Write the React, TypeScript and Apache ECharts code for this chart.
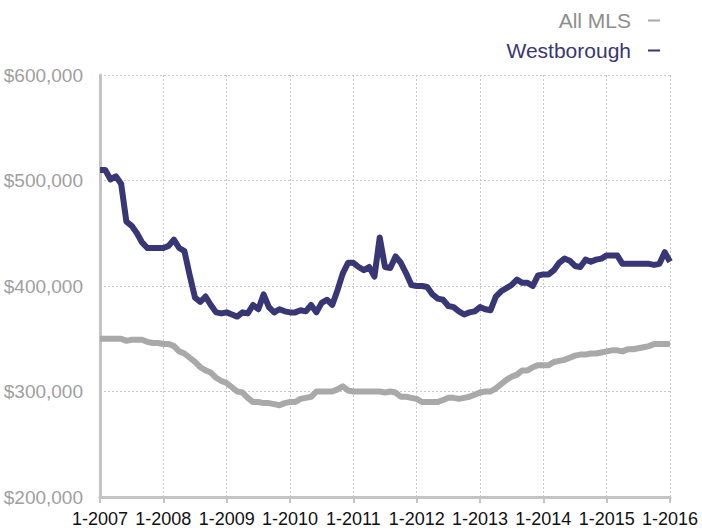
import React, { useEffect, useRef } from "react";
import * as echarts from "echarts";

// Monthly medians in thousands of dollars, Jan 2007 .. Jan 2016
const years = [2007, 2008, 2009, 2010, 2011, 2012, 2013, 2014, 2015, 2016];

const westborough = [
  510, 510, 501, 504, 497, 461, 457, 450, 441, 436, 436, 436,
  436, 438, 444, 436, 433, 410, 389, 385, 390, 382, 375, 374,
  375, 373, 371, 375, 374, 382, 378, 392, 380, 375, 378, 376,
  375, 375, 377, 376, 382, 375, 384, 387, 382, 396, 412, 422,
  422, 418, 415, 418, 409, 446, 418, 417, 428, 422, 412, 401,
  400, 400, 399, 392, 388, 387, 381, 380, 376, 373, 375, 376,
  380, 378, 377, 390, 395, 398, 401, 406, 403, 403, 400, 410,
  411, 411, 415, 422, 426, 424, 419, 418, 425, 423, 425, 426,
  429, 429, 429, 421, 421, 421, 421, 421, 421, 420, 421, 432,
  423,
];

const allMLS = [
  350, 350, 350, 350, 350, 348, 349, 349, 349, 347, 346, 346,
  345, 345, 343, 338, 336, 332, 328, 323, 320, 318, 313, 310,
  308, 304, 300, 299, 294, 290, 290, 289, 289, 288, 287, 289,
  290, 290, 293, 294, 295, 300, 300, 300, 300, 302, 305, 301,
  300, 300, 300, 300, 300, 300, 299, 300, 299, 295, 295, 294,
  293, 290, 290, 290, 290, 292, 294, 294, 293, 294, 295, 297,
  299, 300, 300, 303, 307, 311, 314, 316, 320, 320, 323, 325,
  325, 325, 328, 329, 330, 332, 334, 335, 335, 336, 336, 337,
  338, 339, 339, 338, 340, 340, 341, 342, 343, 345, 345, 345,
  345,
];

const yTicks = { min: 200, max: 600, interval: 100 };

const categories: string[] = [];
years.forEach((y, yi) => {
  const months = yi === years.length - 1 ? 1 : 12;
  for (let m = 1; m <= months; m++) categories.push(`${m}-${y}`);
});

const FONT = "'Liberation Sans', Arial, Helvetica, sans-serif";
const NAVY = "#383675";
const GRAY = "#a9a9a9";

export default function App() {
  const ref = useRef<HTMLDivElement>(null);
  useEffect(() => {
    document.body.style.margin = "0";
    const chart = echarts.init(ref.current!, null, { renderer: "svg" });
    const yearTick = (i: number) => i % 12 === 0;
    chart.setOption({
      animation: false,
      backgroundColor: "#ffffff",
      legend: {
        orient: "vertical",
        right: 37,
        top: 5,
        align: "right",
        icon: "rect",
        itemWidth: 12,
        itemHeight: 2,
        itemGap: 9,
        formatter: (name: string) => `{t|${name}}`,
        textStyle: {
          fontFamily: FONT,
          fontSize: 21,
          rich: { t: { fontSize: 21, fontFamily: FONT, lineHeight: 24, padding: [0, 12, 0, 0] } },
        },
        data: [
          { name: "All MLS", textStyle: { color: "#8e8e8e" } },
          { name: "Westborough", textStyle: { color: NAVY } },
        ],
      },
      grid: { left: 100, right: 32, top: 75, bottom: 34 },
      xAxis: {
        type: "category",
        data: categories,
        boundaryGap: false,
        axisLine: { lineStyle: { color: "#c4c4c4", width: 3 } },
        axisTick: { interval: yearTick, length: 6, lineStyle: { color: "#c4c4c4", width: 2 } },
        axisLabel: {
          interval: yearTick,
          color: "#111111",
          fontSize: 18,
          fontFamily: FONT,
          margin: 13,
        },
        splitLine: {
          show: true,
          interval: yearTick,
          lineStyle: { color: "#c8c8c8", type: [2, 2], width: 1 },
        },
      },
      yAxis: {
        type: "value",
        min: yTicks.min,
        max: yTicks.max,
        interval: yTicks.interval,
        axisLine: { show: true, lineStyle: { color: "#c4c4c4", width: 3 } },
        axisTick: { show: false },
        axisLabel: {
          color: "#a0a0a0",
          fontSize: 19,
          fontFamily: FONT,
          margin: 17,
          formatter: (v: number) => `$${v},000`,
        },
        splitLine: { lineStyle: { color: "#c8c8c8", type: [2, 2], width: 1 } },
      },
      series: [
        {
          name: "All MLS",
          type: "line",
          data: allMLS,
          showSymbol: false,
          symbol: "none",
          color: GRAY,
          lineStyle: { color: GRAY, width: 6, join: "round" },
        },
        {
          name: "Westborough",
          type: "line",
          data: westborough,
          showSymbol: false,
          symbol: "none",
          color: NAVY,
          lineStyle: { color: NAVY, width: 6, join: "round" },
        },
      ],
    });
    return () => chart.dispose();
  }, []);
  return <div ref={ref} style={{ width: 702, height: 531 }} />;
}
